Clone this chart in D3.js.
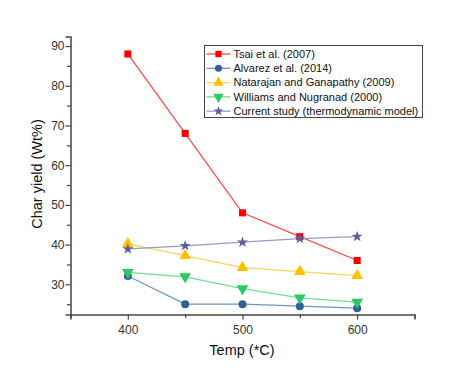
<!DOCTYPE html>
<meta charset='utf-8'>
<script src='https://d3js.org/d3.v7.min.js'></script>
<style>
body { margin: 0; background: #fff; }
text { font-family: 'Liberation Sans', Arial, sans-serif; }
</style>
<body>
<script>
var temps = [400, 450, 500, 550, 600];
var tsai = [88, 68, 48, 42, 36];
var alvarez = [32.1, 25, 25, 24.5, 24];
var natarajan = [40.2, 37.2, 34.2, 33.2, 32.2];
var williams = [33, 31.9, 28.9, 26.6, 25.5];
var current = [38.9, 39.7, 40.6, 41.5, 42];
var seriesNames = ['Tsai et al. (2007)', 'Alvarez et al. (2014)', 'Natarajan and Ganapathy (2009)',
                   'Williams and Nugranad (2000)', 'Current study (thermodynamic model)'];
var xTicks = [400, 500, 600];
var yTicks = [30, 40, 50, 60, 70, 80, 90];

var width = 454, height = 373;
var svg = d3.select('body').append('svg').attr('width', width).attr('height', height);

var x = d3.scaleLinear().domain([350, 650]).range([70.5, 414.5]);
var y = d3.scaleLinear().domain([22.4, 92.4]).range([314.5, 36.5]);

var series = [
  {name: seriesNames[0], values: tsai, line: '#ff4a4a', fill: '#ff0000', sym: d3.symbolSquare, size: 50, rot: 0},
  {name: seriesNames[1], values: alvarez, line: '#6f93c3', fill: '#2e5f9c', sym: d3.symbolCircle, size: 50, rot: 0},
  {name: seriesNames[2], values: natarajan, line: '#ffd25a', fill: '#ffc000', sym: d3.symbolTriangle, size: 60, rot: 0},
  {name: seriesNames[3], values: williams, line: '#6fdc94', fill: '#2ec866', sym: d3.symbolTriangle, size: 60, rot: 180},
  {name: seriesNames[4], values: current, line: '#9a9ac8', fill: '#5c5ca0', sym: d3.symbolStar, size: 38, rot: 0}
];

// axes
var axisColor = '#444';
var gx = svg.append('g').attr('transform', 'translate(0,314.5)')
  .call(d3.axisBottom(x).tickValues(d3.range(350, 651, 50)).tickSize(5).tickFormat(function(d) {
    return xTicks.indexOf(d) >= 0 ? d : '';
  }));
gx.select('.domain').attr('stroke', axisColor).attr('stroke-width', 1.5);
gx.selectAll('.tick line').attr('stroke', axisColor).attr('stroke-width', 1.2)
  .attr('y2', function(d) { return xTicks.indexOf(d) >= 0 ? 5 : 3.5; });
gx.selectAll('.tick text').attr('fill', '#333').attr('font-size', 12).attr('dy', '0.95em');

var gy = svg.append('g').attr('transform', 'translate(70.5,0)')
  .call(d3.axisLeft(y).tickValues(d3.range(25, 91, 5)).tickSize(5).tickFormat(function(d) {
    return yTicks.indexOf(d) >= 0 ? d : '';
  }));
gy.select('.domain').attr('stroke', axisColor).attr('stroke-width', 1.5);
gy.selectAll('.tick line').attr('stroke', axisColor).attr('stroke-width', 1.2)
  .attr('x2', function(d) { return yTicks.indexOf(d) >= 0 ? -5 : -3.5; });
gy.selectAll('.tick text').attr('fill', '#333').attr('font-size', 12).attr('x', -6);

svg.append('text').attr('x', 242).attr('y', 355).attr('text-anchor', 'middle')
  .attr('font-size', 14.5).attr('fill', '#111').text('Temp (*C)');
svg.append('text').attr('transform', 'translate(42,174) rotate(-90)').attr('text-anchor', 'middle')
  .attr('font-size', 14.5).attr('fill', '#111').text('Char yield (Wt%)');

// lines and markers
var line = d3.line().x(function(d, i) { return x(temps[i]); }).y(function(d) { return y(d); });
series.forEach(function(s) {
  svg.append('path').datum(s.values).attr('d', line)
    .attr('fill', 'none').attr('stroke', s.line).attr('stroke-width', 1.3);
});
series.forEach(function(s) {
  svg.append('g').selectAll('path').data(s.values).enter().append('path')
    .attr('d', d3.symbol().type(s.sym).size(s.size))
    .attr('transform', function(d, i) { return 'translate(' + x(temps[i]) + ',' + y(d) + ') rotate(' + s.rot + ')'; })
    .attr('fill', s.fill);
});

// legend
var lg = svg.append('g').attr('transform', 'translate(204.5,45.5)');
lg.append('rect').attr('width', 218).attr('height', 72).attr('fill', '#fff')
  .attr('stroke', '#444').attr('stroke-width', 1);
series.forEach(function(s, i) {
  var yy = 8.5 + i * 14.3;
  lg.append('line').attr('x1', 2).attr('x2', 26).attr('y1', yy).attr('y2', yy)
    .attr('stroke', s.line).attr('stroke-width', 1.3);
  lg.append('path').attr('d', d3.symbol().type(s.sym).size(s.size * 0.8))
    .attr('transform', 'translate(14,' + yy + ') rotate(' + s.rot + ')').attr('fill', s.fill);
  lg.append('text').attr('x', 29).attr('y', yy).attr('dy', '0.35em')
    .attr('font-size', 11).attr('fill', '#111').text(s.name);
});
</script>
